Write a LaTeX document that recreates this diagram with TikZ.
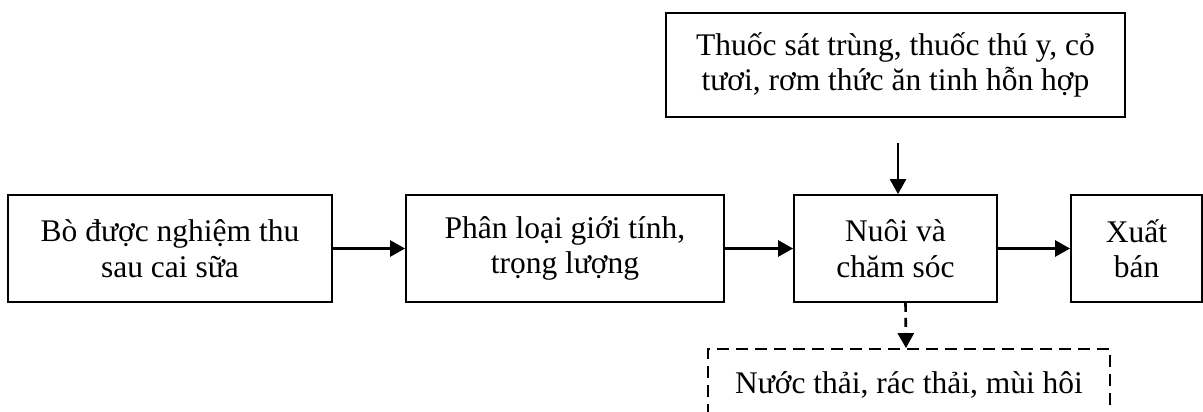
\documentclass[tikz,border=0pt]{standalone}
\usepackage{fontspec}
\setmainfont{Liberation Serif}
\usetikzlibrary{arrows.meta}
\begin{document}
\begin{tikzpicture}[x=1pt,y=-1pt,
  box/.style={draw, line width=1.8pt, align=center, inner sep=0pt,
    font=\fontsize{31.5}{35.5}\selectfont},
  dbox/.style={box, dash pattern=on 12pt off 7pt},
  arr/.style={line width=2.6pt, -{Triangle[length=15pt,width=16pt]}},
  darr/.style={arr, dash pattern=on 9pt off 6pt}]
\useasboundingbox (0,0) rectangle (1203,412);
% main process chain
\node[box, minimum width=324pt, minimum height=107pt] (b1) at (170,248.5)
  {Bò được nghiệm thu\\sau cai sữa};
\node[box, minimum width=318pt, minimum height=107pt] (b2) at (565,248.5)
  {Phân loại giới tính,\\trọng lượng};
\node[box, minimum width=203pt, minimum height=107pt] (b3) at (895.5,248.5)
  {Nuôi và\\chăm sóc};
\node[box, minimum width=131pt, minimum height=107pt] (b4) at (1136.5,248.5)
  {Xuất\\bán};
% inputs and wastes
\node[box, minimum width=459pt, minimum height=104pt] (feed) at (895.5,65)
  {Thuốc sát trùng, thuốc thú y, cỏ\\tươi, rơm thức ăn tinh hỗn hợp};
\node[dbox, minimum width=402pt, minimum height=72pt] (waste) at (909,385)
  {Nước thải, rác thải, mùi hôi};
\coordinate (feedin) at (898,143);
% connectors
\draw[arr] (b1.east) -- (b2.west);
\draw[arr] (b2.east) -- (b3.west);
\draw[arr] (b3.east) -- (b4.west);
\draw[arr] (feedin) -- (feedin |- b3.north);
\draw[darr] ([xshift=10pt]b3.south) -- ([xshift=-3pt]waste.north);
\end{tikzpicture}
\end{document}
